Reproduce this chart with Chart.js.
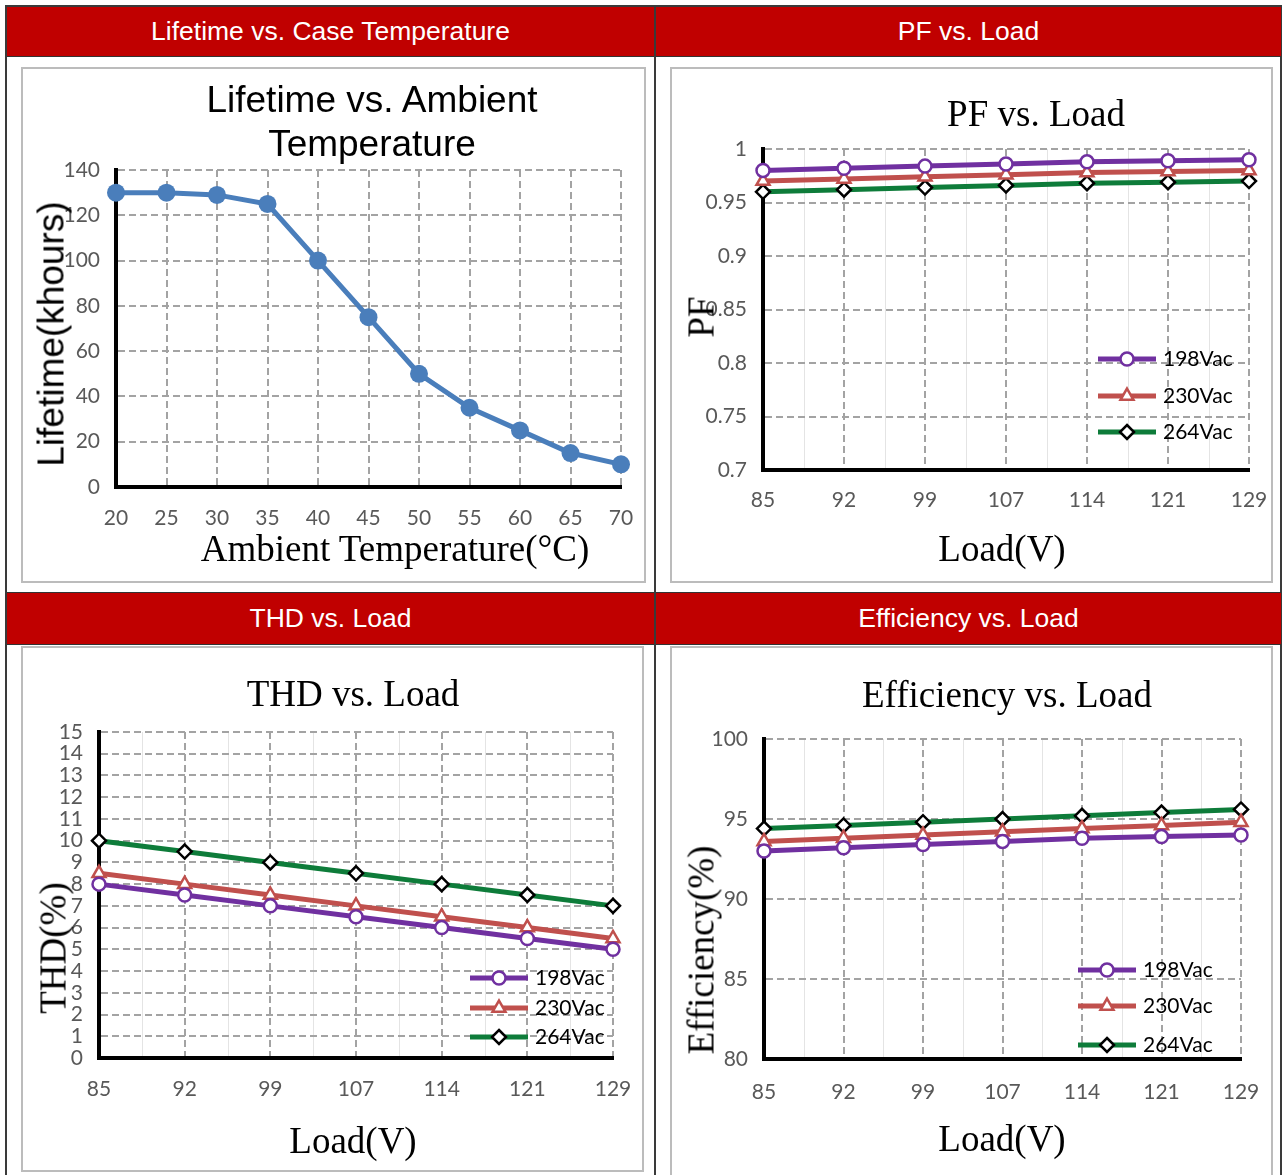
<!DOCTYPE html>
<html>
<head>
<meta charset="utf-8">
<title>Lifetime / PF / THD / Efficiency</title>
<script src="https://cdn.jsdelivr.net/npm/chart.js@4.4.1/dist/chart.umd.min.js"></script>
<style>
  html, body { margin: 0; padding: 0; background: #fff; }
  body { width: 1284px; height: 1175px; position: relative; overflow: hidden; }
  .frame { position: absolute; left: 5px; top: 5px; width: 1277px; height: 1190px; border: 2px solid #3a3a3a; box-sizing: border-box; }
  .vline { position: absolute; left: 654px; top: 5px; width: 2px; height: 1175px; background: #3a3a3a; }
  .hdr { position: absolute; background: #c00000; color: #fff; font: 26.5px "Liberation Sans", Arial, sans-serif;
         display: flex; align-items: center; justify-content: center; box-sizing: border-box; }
  .box { position: absolute; border: 2px solid #bcbcbc; box-sizing: border-box; }
  canvas { position: absolute; }
  .ttl { position: absolute; transform: translate(-50%, -50%); white-space: nowrap; color: #000;
         font-size: 37px; line-height: 37px; text-align: center; z-index: 2; }
  .rot { transform: translate(-50%, -50%) rotate(-90deg); }
  .serif { font-family: "Liberation Serif", "Times New Roman", serif; }
  .sans { font-family: "Liberation Sans", Arial, sans-serif; }
</style>
</head>
<body>
<div class="frame"></div>
<div class="vline"></div>

<div class="hdr" style="left:7px;top:7px;width:647px;height:50px;border-bottom:1px solid #333">Lifetime vs. Case Temperature</div>
<div class="hdr" style="left:656px;top:7px;width:625px;height:50px;border-bottom:1px solid #333">PF vs. Load</div>
<div class="hdr" style="left:7px;top:592px;width:647px;height:53px;border-top:1px solid #333;border-bottom:1px solid #333">THD vs. Load</div>
<div class="hdr" style="left:656px;top:592px;width:625px;height:53px;border-top:1px solid #333;border-bottom:1px solid #333">Efficiency vs. Load</div>

<div class="box" style="left:21px;top:67px;width:625px;height:516px"></div>
<div class="box" style="left:670px;top:67px;width:603px;height:516px"></div>
<div class="box" style="left:21px;top:646px;width:623px;height:526px"></div>
<div class="box" style="left:670px;top:646px;width:603px;height:540px"></div>

<canvas id="cLife" width="625" height="516" style="left:21px;top:67px"></canvas>
<canvas id="cPf" width="603" height="516" style="left:670px;top:67px"></canvas>
<canvas id="cThd" width="623" height="526" style="left:21px;top:646px"></canvas>
<canvas id="cEff" width="603" height="529" style="left:670px;top:646px"></canvas>

<!-- chart titles and axis titles -->
<div class="ttl sans" style="left:372px;top:122px;line-height:44px">Lifetime vs. Ambient<br>Temperature</div>
<div class="ttl sans rot" style="left:51px;top:334px">Lifetime(khours)</div>
<div class="ttl serif" style="left:395px;top:548px">Ambient Temperature(°C)</div>

<div class="ttl serif" style="left:1036px;top:113px">PF vs. Load</div>
<div class="ttl serif rot" style="left:701px;top:317px">PF</div>
<div class="ttl serif" style="left:1002px;top:548px">Load(V)</div>

<div class="ttl serif" style="left:353px;top:693px">THD vs. Load</div>
<div class="ttl serif rot" style="left:53px;top:948px">THD(%)</div>
<div class="ttl serif" style="left:353px;top:1140px">Load(V)</div>

<div class="ttl serif" style="left:1007px;top:694px">Efficiency vs. Load</div>
<div class="ttl serif rot" style="left:701px;top:950px">Efficiency(%)</div>
<div class="ttl serif" style="left:1002px;top:1138px">Load(V)</div>

<script>
// values
const ambientTemps = ['20', '25', '30', '35', '40', '45', '50', '55', '60', '65', '70'];
const lifetimeKh = [130, 130, 129, 125, 100, 75, 50, 35, 25, 15, 10];
const lifetimeTicks = [0, 20, 40, 60, 80, 100, 120, 140];

const loadVolts = ['85', '92', '99', '107', '114', '121', '129'];
const seriesNames = ['198Vac', '230Vac', '264Vac'];

const pf198 = [0.980, 0.982, 0.984, 0.986, 0.988, 0.989, 0.990];
const pf230 = [0.970, 0.972, 0.974, 0.976, 0.978, 0.979, 0.980];
const pf264 = [0.960, 0.962, 0.964, 0.966, 0.968, 0.969, 0.970];
const pfTicks = [0.7, 0.75, 0.8, 0.85, 0.9, 0.95, 1];

const thd198 = [8, 7.5, 7, 6.5, 6, 5.5, 5];
const thd230 = [8.5, 8, 7.5, 7, 6.5, 6, 5.5];
const thd264 = [10, 9.5, 9, 8.5, 8, 7.5, 7];
const thdTicks = [0, 1, 2, 3, 4, 5, 6, 7, 8, 9, 10, 11, 12, 13, 14, 15];

const eff198 = [93.0, 93.2, 93.4, 93.6, 93.8, 93.9, 94.0];
const eff230 = [93.6, 93.8, 94.0, 94.2, 94.4, 94.6, 94.8];
const eff264 = [94.4, 94.6, 94.8, 95.0, 95.2, 95.4, 95.6];
const effTicks = [80, 85, 90, 95, 100];

// look
const GRID = '#a3a3a3';
const MINOR = '#e4e4e4';
const TICK = '#595959';
const TICK_SIZE = 21;
const Y_W = 60;   // fixed width of the y scale box
const X_H = 50;   // fixed height of the x scale box
const seriesLook = [
  { color: '#7030a0', style: 'circle', edge: '#7030a0', r: 6.5 },
  { color: '#c0504d', style: 'triangle', edge: '#c0504d', r: 7.5 },
  { color: '#0e7c3a', style: 'rectRot', edge: '#000000', r: 7 }
];

Chart.defaults.font.family = 'Lato';
Chart.defaults.animation = false;

// page positions of every canvas and of the plot area wanted inside it
const layout = {
  life: { box: { left: 21, top: 67, width: 625, height: 516 }, area: { left: 116, top: 170, right: 621, bottom: 487 }, xPad: 19 },
  pf:   { box: { left: 670, top: 67, width: 603, height: 516 }, area: { left: 763, top: 149, right: 1249, bottom: 470 }, xPad: 18,
          legend: { x: 1098, rows: [359, 396, 432] } },
  thd:  { box: { left: 21, top: 646, width: 623, height: 526 }, area: { left: 99, top: 732, right: 613, bottom: 1058 }, xPad: 19,
          legend: { x: 470, rows: [978, 1008, 1037] } },
  eff:  { box: { left: 670, top: 646, width: 603, height: 529 }, area: { left: 764, top: 739, right: 1241, bottom: 1059 }, xPad: 21,
          legend: { x: 1078, rows: [970, 1006, 1045] } }
};

function paddingFor(l) {
  const b = l.box, a = l.area;
  return {
    left: a.left - b.left - Y_W,
    top: a.top - b.top,
    right: b.left + b.width - a.right,
    bottom: b.top + b.height - a.bottom - X_H
  };
}

function hideFirst(c) {
  return c.index === 0 ? 'rgba(0,0,0,0)' : GRID;
}

function xAxis(pad) {
  return {
    type: 'category',
    offset: false,
    // fixed height, and no extra room asked for the end labels
    afterFit: s => { s.height = X_H; s.paddingLeft = 0; s.paddingRight = 0; },
    grid: { color: hideFirst, lineWidth: 2, drawTicks: false, offset: false },
    border: { display: true, color: '#000', width: 4, dash: [7, 4] },
    ticks: { color: TICK, font: { size: TICK_SIZE }, padding: pad, maxRotation: 0, autoSkip: false }
  };
}

function yAxis(ticks) {
  return {
    type: 'linear',
    min: ticks[0],
    max: ticks[ticks.length - 1],
    afterBuildTicks: s => { s.ticks = ticks.map(v => ({ value: v })); },
    afterFit: s => { s.width = Y_W; },
    grid: { color: hideFirst, lineWidth: 2, drawTicks: false },
    border: { display: true, color: '#000', width: 4, dash: [7, 4] },
    ticks: { color: TICK, font: { size: TICK_SIZE }, padding: 16, autoSkip: false,
             callback: v => String(+Number(v).toFixed(2)) }
  };
}

// faint solid lines half way between the category lines
const minorGrid = {
  id: 'minorGrid',
  beforeDraw(chart, args, opts) {
    const x = chart.scales.x, area = chart.chartArea, ctx = chart.ctx;
    ctx.save();
    ctx.strokeStyle = opts.color;
    ctx.lineWidth = 1;
    for (let i = 0; i < x.ticks.length - 1; i++) {
      const px = Math.round((x.getPixelForTick(i) + x.getPixelForTick(i + 1)) / 2) + 0.5;
      ctx.beginPath();
      ctx.moveTo(px, area.top);
      ctx.lineTo(px, area.bottom);
      ctx.stroke();
    }
    ctx.restore();
  }
};

function marker(ctx, style, r, x, y) {
  ctx.beginPath();
  if (style === 'circle') {
    ctx.arc(x, y, r, 0, Math.PI * 2);
  } else if (style === 'triangle') {
    ctx.moveTo(x, y - r);
    ctx.lineTo(x + r * 0.866, y + r * 0.5);
    ctx.lineTo(x - r * 0.866, y + r * 0.5);
    ctx.closePath();
  } else {
    ctx.moveTo(x, y - r);
    ctx.lineTo(x + r, y);
    ctx.lineTo(x, y + r);
    ctx.lineTo(x - r, y);
    ctx.closePath();
  }
  ctx.fill();
  ctx.stroke();
}

// legend sitting inside the plot, lower right
const cornerLegend = {
  id: 'cornerLegend',
  afterDraw(chart, args, o) {
    const ctx = chart.ctx;
    ctx.save();
    chart.data.datasets.forEach((ds, i) => {
      const y = o.rows[i];
      const x1 = o.x + o.len, xm = o.x + o.len / 2;
      ctx.setLineDash([]);
      ctx.strokeStyle = ds.borderColor;
      ctx.lineWidth = ds.borderWidth;
      ctx.beginPath();
      ctx.moveTo(o.x, y);
      ctx.lineTo(x1, y);
      ctx.stroke();
      ctx.fillStyle = ds.pointBackgroundColor;
      ctx.strokeStyle = ds.pointBorderColor;
      ctx.lineWidth = ds.pointBorderWidth;
      marker(ctx, ds.pointStyle, ds.pointRadius, xm, y);
      ctx.fillStyle = '#000';
      ctx.font = '21px Lato';
      ctx.textAlign = 'left';
      ctx.textBaseline = 'middle';
      ctx.fillText(ds.label, x1 + 7, y);
    });
    ctx.restore();
  }
};

function loadSets(a, b, c) {
  return [a, b, c].map((vals, i) => ({
    label: seriesNames[i],
    data: vals,
    borderColor: seriesLook[i].color,
    borderWidth: 5,
    pointStyle: seriesLook[i].style,
    pointRadius: seriesLook[i].r,
    pointBorderColor: seriesLook[i].edge,
    pointBorderWidth: 2.5,
    pointBackgroundColor: '#fff',
    tension: 0,
    clip: false
  }));
}

function loadChart(id, l, sets, ticks) {
  const b = l.box;
  return new Chart(document.getElementById(id), {
    type: 'line',
    data: { labels: loadVolts, datasets: sets },
    options: {
      responsive: false,
      layout: { padding: paddingFor(l) },
      scales: { x: xAxis(l.xPad), y: yAxis(ticks) },
      plugins: {
        legend: { display: false },
        tooltip: { enabled: false },
        minorGrid: { color: MINOR },
        cornerLegend: { x: l.legend.x - b.left, rows: l.legend.rows.map(v => v - b.top), len: 58 }
      }
    },
    plugins: [minorGrid, cornerLegend]
  });
}

new Chart(document.getElementById('cLife'), {
  type: 'line',
  data: {
    labels: ambientTemps,
    datasets: [{
      label: 'Lifetime',
      data: lifetimeKh,
      borderColor: '#4a7ebb',
      backgroundColor: '#4a7ebb',
      borderWidth: 5,
      pointRadius: 9,
      pointBorderWidth: 0,
      pointBackgroundColor: '#4a7ebb',
      tension: 0,
      clip: false
    }]
  },
  options: {
    responsive: false,
    layout: { padding: paddingFor(layout.life) },
    scales: { x: xAxis(layout.life.xPad), y: yAxis(lifetimeTicks) },
    plugins: { legend: { display: false }, tooltip: { enabled: false } }
  }
});

loadChart('cPf', layout.pf, loadSets(pf198, pf230, pf264), pfTicks);
loadChart('cThd', layout.thd, loadSets(thd198, thd230, thd264), thdTicks);
loadChart('cEff', layout.eff, loadSets(eff198, eff230, eff264), effTicks);
</script>
</body>
</html>
